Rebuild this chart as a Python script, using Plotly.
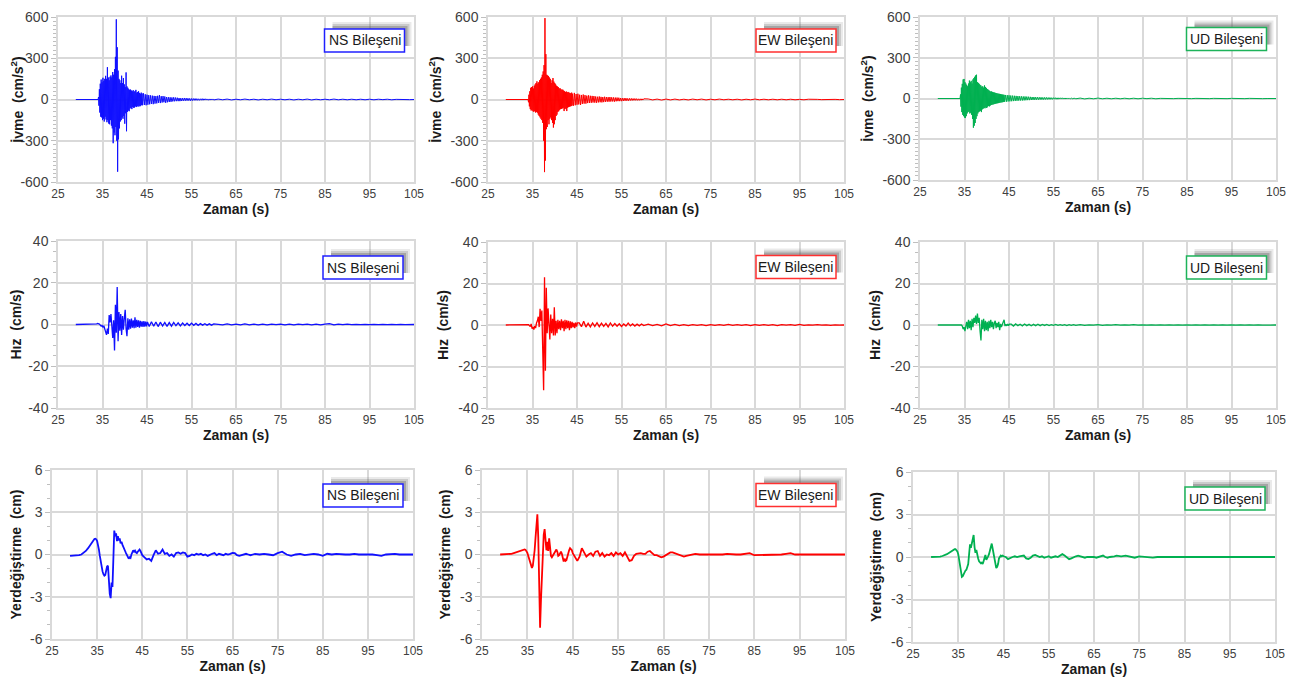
import plotly.graph_objects as go

# page body keeps a default 8 px margin, so the figure is drawn that much smaller
PAGE_OFF = 8
W, H = 1295 - PAGE_OFF, 686 - PAGE_OFF

# ---------------- sample times (segment start, sample step) ----------------
ACC_PRE_T = [29.0, 33.9]
ACC_SEG_A = (34.0, 0.1)
ACC_SEG_B = (44.2, 0.2)
ACC_SEG_C = (61.0, 1.0)
VEL_PRE_T = [29.0, 33.3]
VEL_SEG_A = (33.5, 0.2)
VEL_SEG_B = (45.5, 0.5)
VEL_SEG_C = (61.0, 1.0)
DIS_SEG_A = (29.0, 0.5)
DIS_SEG_B = (34.2, 0.2)
DIS_SEG_C = (45.5, 0.5)
DIS_SEG_D = (71.0, 1.0)

# ---------------- acceleration (cm/s2) ----------------
NS_ACC_A = [0, 18, -45, 75, -95, 115, -125, 145, -130, 125,
            -150, 158, -140, 135, -160, 150, -125, 172, -145, 150,
            -165, 235, -150, 160, -175, 140, -180, 165, -150, 175,
            -190, 160, -210, 200, -318, 180, -240, 220, -260, 310,
            -200, 583, -300, 380, -525, 210, -290, 150, -210, 140,
            -160, 120, -150, 173, -130, 120, -140, 156, -120, 110,
            -176, 90, -100, 197, -231, 95, -90, 85, -80, 75,
            -85, 70, -65, 72, -60, 65, -70, 60, -55, 68,
            -60, 55, -58, 62, -50, 70, -55, 50, -48, 55,
            -52, 60, -45, 48, -50, 42, -46, 50, -40, 44, -42]
NS_ACC_B = [45, -40, 38, -42, 35, -38, 32, -35, 30, -32,
            28, -34, 26, -30, 25, -28, 27, -24, 32, -26,
            24, -22, 25, -20, 22, -24, 18, -20, 17, -18,
            16, -17, 15, -14, 16, -13, 14, -12, 13, -12,
            11, -12, 10, -11, 10, -9, 11, -9, 10, -8,
            9, -8, 8, -9, 7, -8, 7, -6, 7, -6,
            6, -6, 5, -6, 5, -5, 6, -5, 5, -4,
            5, -4, 4, -5, 4, -4, 4, -3, 4, -3]
NS_ACC_C = [3, -2, 3, -3, 2, -2, 3, -2, 2, -3, 2, -2, 3, -2, 2, -2, 2, -3, 2, -2,
            3, -3, 2, -2, 2, -2, 3, -2, 2, -2, 2, -2, 2, -2, 2, -2, 2, -1, 2, -2,
            1, -1, 1, -1, 0]

EW_ACC_A = [0, -20, 35, -50, 60, -70, 85, -80, 90, -75,
            95, -85, 80, -90, 100, -84, 110, -95, 120, -90,
            132, -96, 115, -110, 125, -120, 140, -130, 150, -140,
            160, -150, 180, -170, 204, -300, 250, -528, 592, -444,
            330, -216, 180, -200, 175, -150, 170, -180, 160, -140,
            150, -130, 120, -150, 140, -170, 156, -204, 130, -180,
            120, -150, 110, -120, 100, -110, 95, -90, 90, -85,
            80, -75, 82, -70, 75, -68, 70, -65, 72, -60,
            65, -84, 60, -70, 55, -65, 58, -84, 52, -60,
            55, -55, 50, -52, 48, -50, 45, -48, 50, -44, 42]
EW_ACC_B = [-45, 48, -42, 40, -38, 42, -36, 35, -40, 33,
            -32, 36, -30, 32, -30, 28, -26, 30, -25, 27,
            -24, 26, -22, 25, -23, 22, -24, 20, -21, 22,
            -20, 19, -21, 18, -19, 20, -17, 18, -16, 17,
            -16, 18, -15, 16, -14, 15, -16, 14, -13, 14,
            -12, 13, -12, 11, -12, 10, -11, 10, -9, 10,
            -9, 8, -9, 8, -7, 8, -7, 7, -6, 7,
            -6, 6, -6, 5, -6, 5, -5, 5, -4, 5]
EW_ACC_C = [4, -3, 3, -4, 3, -3, 3, -3, 2, -3, 3, -2, 3, -3, 2, -2, 3, -2, 2, -2,
            2, -3, 2, -2, 3, -2, 2, -2, 2, -2, 2, -2, 2, -2, 1, -2, 2, -1, 1, -1,
            1, -1, 1, -1, 0]

UD_ACC_A = [0, 30, -60, 80, -100, 108, -120, 140, -130, 144,
            -140, 120, -144, 110, -130, 100, -110, 90, -100, 110,
            -95, 132, -110, 120, -105, 130, -120, 110, -150, 140,
            -215, 150, -200, 160, -180, 170, -150, 175, -130, 120,
            -110, 115, -100, 108, -95, 100, -90, 95, -100, 85,
            -80, 90, -75, 80, -70, 96, -72, 85, -65, 78,
            -70, 70, -60, 65, -55, 60, -58, 55, -52, 50,
            -48, 52, -45, 48, -44, 45, -42, 44, -40, 42,
            -38, 40, -36, 38, -35, 36, -34, 35, -32, 34,
            -30, 32, -29, 30, -28, 29, -27, 28, -25, 27, -24]
UD_ACC_B = [26, -24, 25, -22, 24, -21, 22, -20, 21, -19,
            20, -18, 19, -17, 18, -16, 17, -15, 16, -15,
            15, -14, 15, -13, 14, -12, 13, -12, 12, -11,
            11, -10, 11, -10, 10, -9, 10, -9, 9, -8,
            9, -8, 8, -8, 8, -7, 8, -7, 7, -6,
            7, -6, 6, -6, 6, -5, 6, -5, 5, -5,
            5, -4, 5, -4, 5, -4, 4, -4, 4, -3,
            4, -3, 4, -3, 3, -3, 3, -3, 3, -2]
UD_ACC_C = [3, -3, 2, -2, 3, -2, 2, -2, 2, -2, 2, -2, 2, -2, 2, -1, 2, -2, 1, -1,
            2, -1, 1, -1, 1, -1, 1, -1, 1, -1, 1, -1, 1, -1, 1, -1, 1, -1, 1, -1,
            1, -1, 0, 0, 0]

# ---------------- velocity (cm/s) ----------------
NS_VEL_A = [0.2, 0.3, 0.5, 0.4, 0.2, -0.3, -0.8, -0.5, -1.2, -0.6,
            -2.0, -3.5, -5.0, -2.0, -4.5, 4.5, 1.0, 5.0, -2.0, -6.5,
            2.0, -12.5, 9.5, -4.0, 18.0, -8.0, 6.0, -3.0, 5.0, -5.0,
            4.0, -2.5, 3.0, 7.0, -2.0, -5.6, 3.0, -2.5, 2.5, -2.0,
            2.8, -1.5, 2.0, -1.8, 3.4, -1.5, 2.2, -1.2, 2.0, -1.5,
            1.8, -1.0, 1.5, -1.2, 1.6, -1.0, 1.4, -0.9, 1.2]
NS_VEL_B = [-1.0, 1.3, -0.8, 1.2, -1.0, 1.1, -0.7, 1.0, -0.9, 0.9,
            -0.8, 1.0, -0.6, 0.8, -0.7, 0.7, -0.5, 0.6, -0.5, 0.6,
            -0.4, 0.5, -0.4, 0.4, -0.3, 0.4, -0.3, 0.3, -0.3, 0.3]
NS_VEL_C = [0.2, -0.2, 0.3, -0.2, 0.2, -0.2, 0.3, -0.2, 0.2, -0.2,
            0.2, -0.2, 0.2, -0.1, 0.2, -0.2, 0.2, -0.2, 0.2, -0.1,
            0.2, -0.2, 0.2, -0.2, 0.2, 0.4, -0.2, 0.2, -0.1, 0.2,
            -0.1, 0.1, -0.1, 0.1, -0.1, 0.1, -0.1, 0.1, -0.1, 0.1,
            -0.1, 0.1, -0.1, 0.1, 0.0]

EW_VEL_A = [0.0, 0.0, 0.1, 0.2, -0.3, -0.8, 0.5, -1.8, -1.0, -2.2,
            -0.5, -1.5, 1.0, 2.0, 4.0, -1.0, 7.8, 2.0, 7.0, -8.0,
            -31.5, 23.0, -22.0, 18.0, -4.0, 8.0, -3.0, -7.0, 5.0, -4.0,
            3.0, -5.0, 8.6, -5.0, 2.0, -4.0, 2.5, -2.0, 2.0, -2.5,
            2.8, -1.5, 2.0, -3.0, 2.5, -2.0, 2.3, -1.5, 2.0, -2.5,
            1.8, -1.5, 1.5, -1.2, 1.0, -1.5, 1.2, -0.8, 1.0]
EW_VEL_B = [1.0, -0.8, 1.8, -1.0, 0.8, -0.9, 1.0, -0.7, 1.1, -0.8,
            0.9, -0.7, 0.8, -0.9, 1.0, -0.6, 0.7, -0.6, 0.6, -0.7,
            0.5, -0.5, 0.9, -0.4, 0.5, -0.5, 0.4, -0.4, 0.5, -0.3]
EW_VEL_C = [0.4, -0.3, 0.3, -0.4, 0.5, -0.3, 0.3, -0.3, 0.2, -0.3,
            0.2, -0.2, 0.2, -0.3, 0.2, -0.2, 0.2, -0.2, 0.3, -0.2,
            0.2, -0.2, 0.2, -0.3, 0.2, -0.2, 0.2, -0.2, 0.2, -0.3,
            0.2, -0.1, 0.2, -0.2, 0.3, -0.2, 0.1, -0.1, 0.2, -0.1,
            0.1, -0.2, 0.1, -0.1, 0.0]

UD_VEL_A = [0.0, 0.0, 0.0, 0.1, 0.0, -0.5, -2.0, -1.0, -3.0, -0.5,
            1.5, -2.0, 2.5, -1.5, 2.0, -2.5, 3.0, -1.0, 3.5, 1.0,
            4.5, 0.5, 5.5, 1.0, 3.5, -3.0, -7.5, 2.5, -2.0, 3.0,
            -3.0, 2.0, -2.5, 1.5, -3.0, 2.0, -1.5, 2.5, -1.0, 1.5,
            -2.0, 1.0, 2.0, -1.5, 1.0, -1.0, 1.5, -2.5, 0.5, -1.0,
            0.8, 1.5, 2.5, -0.5, 0.3, -0.4, 0.5, -0.3, 0.4]
UD_VEL_B = [0.4, -0.5, 0.5, -0.3, 0.4, -0.4, 0.5, -0.3, 0.3, -0.4,
            0.3, -0.3, 0.4, -0.3, 0.3, -0.2, 0.3, -0.3, 0.2, -0.2,
            0.3, -0.2, 0.2, -0.2, 0.2, -0.3, 0.2, -0.2, 0.2, -0.2]
UD_VEL_C = [0.2, -0.2, 0.1, -0.1, 0.2, -0.2, 0.1, -0.1, 0.2, -0.1,
            0.1, -0.1, 0.2, -0.1, 0.1, -0.1, 0.1, -0.1, 0.1, -0.1,
            0.1, -0.1, 0.1, -0.1, 0.1, -0.1, 0.1, -0.1, 0.1, -0.1,
            0.1, -0.1, 0.1, -0.1, 0.1, -0.1, 0.1, -0.1, 0.1, -0.1,
            0.1, -0.1, 0.0, 0.0, 0.0]

# ---------------- displacement (cm) ----------------
NS_DIS_A = [-0.1, -0.1, -0.1, -0.08, -0.05, 0.0, 0.1, 0.25, 0.45, 0.7, 0.95]
NS_DIS_B = [1.02, 1.1, 1.12, 1.08, 0.95, 0.7, 0.35, -0.1, -0.55, -0.9,
            -1.2, -1.4, -1.5, -1.45, -1.1, -0.85, -0.8, -1.9, -2.8, -3.1,
            -2.0, -2.3, 0.3, 1.7, 1.3, 1.5, 0.95, 1.3, 1.0, 1.15,
            0.8, 0.9, 0.7, 0.5, 0.4, 0.25, 0.1, -0.05, -0.25, -0.3,
            -0.2, -0.25, 0.0, 0.2, 0.3, 0.2, 0.28, 0.15, 0.1, 0.2,
            0.3, 0.35, 0.25, 0.1, -0.05]
NS_DIS_C = [-0.2, -0.35, -0.3, -0.45, -0.05, 0.3, 0.05, 0.1, 0.35, 0.05,
            0.1, -0.1, 0.0, -0.15, 0.1, 0.15, 0.05, 0.15, 0.1, -0.15,
            -0.1, 0.0, -0.05, 0.05, 0.0, 0.05, -0.05, 0.0, -0.1, 0.0,
            0.05, 0.1, -0.05, 0.05, 0.0, -0.05, 0.05, 0.0, 0.05, 0.12,
            0.1, -0.05, -0.1, -0.05, 0.05, 0.05, 0.0, -0.05, 0.0, 0.05]
NS_DIS_D = [0.0, 0.05, 0.0, -0.05, 0.1, 0.2, 0.0, -0.1, 0.0, 0.05,
            -0.05, 0.0, 0.05, 0.0, -0.1, 0.05, 0.0, 0.05, 0.0, 0.0,
            0.0, 0.05, 0.0, 0.0, 0.05, 0.0, -0.05, -0.1, 0.0, 0.05,
            0.05, 0.0, 0.0, 0.0, 0.0]

EW_DIS_A = [0.0, 0.0, 0.0, 0.0, 0.02, 0.05, 0.1, 0.15, 0.2, 0.27, 0.32]
EW_DIS_B = [0.35, 0.36, 0.33, 0.25, 0.12, -0.1, -0.35, -0.65, -0.9, -0.95,
            -0.8, -0.4, 0.3, 1.2, 2.3, 2.85, 1.2, -2.8, -5.2, -3.2,
            -1.8, 0.5, 1.4, 1.8, 0.9, 0.3, 0.9, 0.25, 1.15, 0.4,
            -0.1, -0.2, -0.1, 0.0, 0.1, 0.2, 0.35, 0.2, -0.1, -0.05,
            0.1, 0.2, 0.05, -0.3, -0.5, -0.3, -0.45, -0.4, -0.1, 0.1,
            0.3, 0.45, 0.4, 0.3, 0.1]
EW_DIS_C = [-0.2, -0.45, -0.15, 0.45, 0.15, -0.15, 0.0, 0.1, -0.1, 0.2,
            0.25, -0.1, 0.1, -0.15, 0.0, -0.05, 0.1, -0.1, 0.15, 0.0,
            0.1, -0.1, 0.15, -0.2, -0.45, -0.4, -0.1, 0.05, 0.1, 0.1,
            0.05, 0.05, 0.2, 0.25, 0.1, -0.05, -0.05, -0.15, -0.2, -0.15,
            -0.05, 0.1, 0.15, 0.15, 0.1, 0.05, 0.0, -0.1, -0.15, -0.1]
EW_DIS_D = [0.0, 0.05, 0.0, 0.0, -0.05, 0.0, 0.0, 0.0, 0.05, 0.0,
            0.0, 0.0, 0.05, 0.1, -0.05, -0.05, 0.0, 0.0, 0.0, -0.05,
            0.0, 0.05, 0.1, 0.0, 0.0, 0.0, 0.0, 0.0, 0.0, 0.0,
            0.0, 0.0, 0.0, 0.0, 0.0]

UD_DIS_A = [0.0, 0.0, 0.0, 0.01, 0.03, 0.07, 0.12, 0.2, 0.3, 0.42, 0.52]
UD_DIS_B = [0.55, 0.55, 0.5, 0.4, 0.2, -0.2, -0.7, -1.1, -1.4, -1.35,
            -1.2, -1.1, -0.95, -0.9, -0.75, -0.5, 0.2, 0.9, 0.65, 0.9,
            1.3, 1.55, 0.7, 0.3, 0.5, 0.1, -0.1, -0.3, -0.35, -0.45,
            -0.4, -0.5, -0.3, 0.05, 0.15, -0.2, -0.1, 0.05, 0.2, 0.5,
            0.8, 0.95, 0.6, 0.3, -0.1, -0.5, -0.78, -0.7, -0.5, -0.1,
            0.05, 0.1, 0.05, 0.1, 0.05]
UD_DIS_C = [0.0, -0.15, -0.05, 0.0, 0.05, 0.0, 0.05, 0.05, 0.1, -0.1,
            -0.15, -0.05, 0.1, 0.15, 0.05, 0.0, 0.05, -0.05, 0.0, 0.05,
            -0.05, 0.0, 0.05, 0.0, 0.1, 0.2, 0.1, -0.05, -0.15, -0.1,
            0.0, 0.05, 0.1, 0.05, 0.0, -0.05, 0.0, 0.0, 0.05, 0.0,
            -0.05, 0.0, 0.05, 0.1, 0.0, -0.05, 0.0, 0.0, 0.05, 0.1]
UD_DIS_D = [0.05, 0.1, 0.0, -0.05, 0.05, 0.0, 0.0, -0.05, 0.0, 0.0,
            0.0, 0.0, 0.0, 0.05, 0.0, 0.0, 0.05, 0.0, 0.0, 0.0,
            0.0, 0.05, 0.0, 0.0, 0.0, 0.0, 0.0, 0.0, 0.0, 0.0,
            0.0, 0.0, 0.0, 0.0, 0.0]

# ---------------- labels & ticks ----------------
COMPONENTS = ["NS Bileşeni", "EW Bileşeni", "UD Bileşeni"]
X_TICKS = [25, 35, 45, 55, 65, 75, 85, 95, 105]
X_TICK_TEXT = ["25", "35", "45", "55", "65", "75", "85", "95", "105"]
ACC_TICKS = [-600, -300, 0, 300, 600]
ACC_TICK_TEXT = ["-600", "-300", "0", "300", "600"]
VEL_TICKS = [-40, -20, 0, 20, 40]
VEL_TICK_TEXT = ["-40", "-20", "0", "20", "40"]
DIS_TICKS = [-6, -3, 0, 3, 6]
DIS_TICK_TEXT = ["-6", "-3", "0", "3", "6"]
X_TITLE = "Zaman (s)"
Y_TITLES = ["İvme\u00a0\u00a0(cm/s<sup>2</sup>)", "Hız\u00a0\u00a0(cm/s)", "Yerdeğiştirme\u00a0\u00a0(cm)"]


def build(pre_t, segments):
    t = list(pre_t)
    v = [0.0] * len(pre_t)
    for (t0, dt), vals in segments:
        for i, val in enumerate(vals):
            t.append(round(t0 + i * dt, 3))
            v.append(val)
    return t, v


ACC = [build(ACC_PRE_T, [(ACC_SEG_A, a), (ACC_SEG_B, b), (ACC_SEG_C, c)])
       for a, b, c in [(NS_ACC_A, NS_ACC_B, NS_ACC_C), (EW_ACC_A, EW_ACC_B, EW_ACC_C),
                       (UD_ACC_A, UD_ACC_B, UD_ACC_C)]]
VEL = [build(VEL_PRE_T, [(VEL_SEG_A, a), (VEL_SEG_B, b), (VEL_SEG_C, c)])
       for a, b, c in [(NS_VEL_A, NS_VEL_B, NS_VEL_C), (EW_VEL_A, EW_VEL_B, EW_VEL_C),
                       (UD_VEL_A, UD_VEL_B, UD_VEL_C)]]
DIS = [build([], [(DIS_SEG_A, a), (DIS_SEG_B, b), (DIS_SEG_C, c), (DIS_SEG_D, d)])
       for a, b, c, d in [(NS_DIS_A, NS_DIS_B, NS_DIS_C, NS_DIS_D),
                          (EW_DIS_A, EW_DIS_B, EW_DIS_C, EW_DIS_D),
                          (UD_DIS_A, UD_DIS_B, UD_DIS_C, UD_DIS_D)]]

# ---------------- styling / layout ----------------
LINE_COLORS = ["#1010FF", "#FF0000", "#00B050"]
BOX_COLORS = ["#2020FF", "#FF3030", "#1DB35A"]
ROW_DATA = [ACC, VEL, DIS]
ROW_RANGE = [(-600, 600), (-40, 40), (-6, 6)]
ROW_TICKS = [(ACC_TICKS, ACC_TICK_TEXT), (VEL_TICKS, VEL_TICK_TEXT), (DIS_TICKS, DIS_TICK_TEXT)]
ROW_MINOR = [30, 5, 1]
ROW_WIDTH = [1.0, 1.3, 1.8]

# plot areas in screen pixels: (left, right, top, bottom)
PANELS = [
    [(58, 414, 17, 182), (488, 844, 17, 182), (920, 1276, 17, 180)],
    [(58, 414, 241, 408), (488, 844, 242, 408), (920, 1276, 242, 408)],
    [(52, 413, 470, 639), (482, 845, 470, 639), (913, 1275, 472, 642)],
]
# label boxes (center x, center y) in screen pixels
BOXES = [
    [(364.5, 40.5), (796, 40.5), (1226.5, 39)],
    [(363, 267.5), (796, 267), (1226.5, 267.5)],
    [(363, 495.5), (796, 495), (1225, 498.5)],
]
BOX_W, BOX_H = 80, 23


def fx(px):
    return (px - PAGE_OFF) / W


def fy(py):
    return 1 - (py - PAGE_OFF) / H


TICK_FONT = "Liberation Sans Narrow, Arial Narrow, Liberation Sans, Arial, sans-serif"
TITLE_FONT = "Liberation Sans, Arial, sans-serif"

fig = go.Figure()
layout = dict(width=W, height=H, margin=dict(l=0, r=0, t=0, b=0),
              paper_bgcolor="white", plot_bgcolor="white", showlegend=False,
              annotations=[], shapes=[])

k = 0
for r in range(3):
    for c in range(3):
        k += 1
        xa = "xaxis" if k == 1 else f"xaxis{k}"
        ya = "yaxis" if k == 1 else f"yaxis{k}"
        xr = "x" if k == 1 else f"x{k}"
        yr = "y" if k == 1 else f"y{k}"
        l, rr, t, b = PANELS[r][c]
        t_vals, v_vals = ROW_DATA[r][c]
        fig.add_trace(go.Scatter(x=t_vals, y=v_vals, mode="lines", xaxis=xr, yaxis=yr,
                                 line=dict(color=LINE_COLORS[c], width=ROW_WIDTH[r]),
                                 hoverinfo="skip"))
        layout[xa] = dict(domain=[fx(l), fx(rr)], anchor=yr, range=[25, 105],
                          tickvals=X_TICKS, ticktext=X_TICK_TEXT, showgrid=True,
                          gridcolor="#D9D9D9", gridwidth=1.5, zeroline=False,
                          showline=True, linecolor="#D9D9D9", linewidth=1.5, mirror=True,
                          ticks="", automargin=False, ticklabeloverflow="allow",
                          tickfont=dict(family=TICK_FONT, size=12, color="#404040"),
                          title=dict(text=X_TITLE, standoff=3,
                                     font=dict(family=TITLE_FONT, size=14, color="#1a1a1a",
                                               weight="bold")))
        yt, ytt = ROW_TICKS[r]
        layout[ya] = dict(domain=[fy(b), fy(t)], anchor=xr, range=list(ROW_RANGE[r]),
                          tickvals=yt, ticktext=ytt, showgrid=True, gridcolor="#D9D9D9",
                          gridwidth=1.5, zeroline=False, showline=True, linecolor="#D9D9D9",
                          linewidth=1.5, mirror=True, ticks="outside", ticklen=5,
                          tickcolor="#BFBFBF", tickwidth=1, automargin=False,
                          ticklabeloverflow="allow",
                          minor=dict(dtick=ROW_MINOR[r], tick0=0, ticks="outside", ticklen=3,
                                     tickcolor="#BFBFBF", tickwidth=1, showgrid=False),
                          tickfont=dict(family=TICK_FONT, size=14, color="#404040"),
                          title=dict(text=Y_TITLES[r], standoff=6,
                                     font=dict(family=TITLE_FONT, size=14, color="#1a1a1a",
                                               weight="bold")))
        cx, cy = BOXES[r][c]
        # soft shadow behind the label box
        for off, op in [(7, 0.12), (5, 0.2), (3, 0.3)]:
            layout["shapes"].append(dict(
                type="rect", xref="paper", yref="paper", layer="above",
                x0=fx(cx - BOX_W / 2 + 8), x1=fx(cx + BOX_W / 2 + off),
                y0=fy(cy + BOX_H / 2 - 6), y1=fy(cy - BOX_H / 2 - off),
                fillcolor="#505050", opacity=op, line=dict(width=0)))
        layout["shapes"].append(dict(
            type="rect", xref="paper", yref="paper", layer="above",
            x0=fx(cx - BOX_W / 2), x1=fx(cx + BOX_W / 2),
            y0=fy(cy + BOX_H / 2), y1=fy(cy - BOX_H / 2),
            fillcolor="white", line=dict(color=BOX_COLORS[c], width=1.5)))
        layout["annotations"].append(dict(
            text=COMPONENTS[c], x=fx(cx), y=fy(cy), xref="paper", yref="paper",
            xanchor="center", yanchor="middle", showarrow=False,
            font=dict(family=TITLE_FONT, size=14, color="#1a1a1a")))

fig.update_layout(**layout)
fig.write_html("out.html")
